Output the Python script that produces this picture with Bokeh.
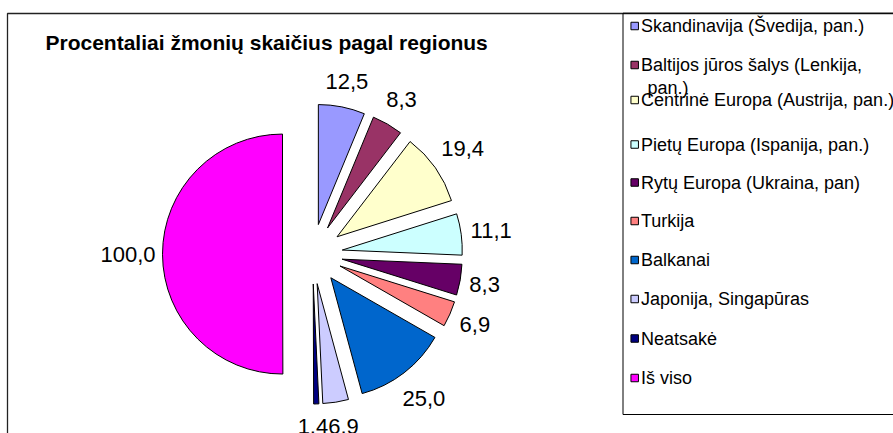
import math
from bokeh.plotting import figure
from bokeh.models import Range1d
from bokeh.core.properties import value
from bokeh.embed import file_html
from bokeh.resources import INLINE

# ---------------- data ----------------
title_text = "Procentaliai žmonių skaičius pagal regionus"
categories = [
    "Skandinavija (Švedija, pan.)",
    "Baltijos jūros šalys (Lenkija,\npan.)",
    "Centrinė Europa (Austrija, pan.)",
    "Pietų Europa (Ispanija, pan.)",
    "Rytų Europa (Ukraina, pan)",
    "Turkija",
    "Balkanai",
    "Japonija, Singapūras",
    "Neatsakė",
    "Iš viso",
]
values = [12.5, 8.3, 19.4, 11.1, 8.3, 6.9, 25.0, 6.9, 1.4, 100.0]
colors = ["#9999FF", "#993366", "#FFFFCC", "#CCFFFF", "#660066",
          "#FF8080", "#0066CC", "#CCCCFF", "#000080", "#FF00FF"]

# ---------------- layout (page pixels) ----------------
W, H = 893, 433
def Y(ys):  # page y (down) -> data y (up)
    return H - ys

CX, CY = 312.0, Y(253.5)
R = 120.0
EXPLODE = 30.0
LABEL_FS = 22.0
LEGEND_FS = 18.0
FONT = "Liberation Sans"

legend_row_y = [25.5, 64.5, 99.5, 144, 182, 220.5, 259.5, 298.5, 338, 377.5]

p = figure(width=W, height=H, output_backend="svg", toolbar_location=None,
           x_range=Range1d(0, W), y_range=Range1d(0, H), min_border=0)
p.xaxis.visible = False
p.yaxis.visible = False
p.grid.visible = False
p.outline_line_color = None
p.background_fill_color = "white"
p.border_fill_color = "white"

# outer chart border (top and left visible)
p.quad(left=[7], right=[W + 20], top=[Y(13)], bottom=[Y(H + 20)],
       fill_color=None, line_color="#222222", line_width=1.3)

# title
p.text(x=[45], y=[Y(42)], text=[title_text], text_font=value(FONT),
       text_font_size="21px", text_font_style="bold", text_color="black",
       text_align="left", text_baseline="middle")

# pie
total = sum(values)
cum = 0.0
xs, ys, sa, ea = [], [], [], []
lx, ly, lw, labels = [], [], [], []
for v in values:
    th_s = cum / total * 360.0
    th_e = (cum + v) / total * 360.0
    th_m = math.radians((th_s + th_e) / 2.0)
    dx, dy = math.sin(th_m), math.cos(th_m)
    ex, ey = CX + EXPLODE * dx, CY + EXPLODE * dy
    xs.append(ex); ys.append(ey)
    sa.append(math.radians(90.0 - th_s)); ea.append(math.radians(90.0 - th_e))
    lab = f"{v:.1f}".replace(".", ",")
    w = sum(0.278 if ch == "," else 0.556 for ch in lab) * LABEL_FS
    r = R + 7 + abs(dx) * w / 2 + abs(dy) * 15.5
    lx.append(ex + r * dx)
    ly.append(ey + r * dy)
    lw.append(w)
    labels.append(lab)
    cum += v

# resolve overlapping labels (push apart horizontally)
lh = 0.75 * LABEL_FS
for i in range(len(labels)):
    for j in range(i + 1, len(labels)):
        ox = (lw[i] + lw[j]) / 2 - abs(lx[i] - lx[j])
        oy = lh - abs(ly[i] - ly[j])
        if ox > 0 and oy > 0:
            s = 1 if lx[i] >= lx[j] else -1
            lx[i] += s * ox / 2
            lx[j] -= s * ox / 2

p.wedge(x=xs, y=ys, radius=R, start_angle=sa, end_angle=ea, direction="clock",
        fill_color=colors, line_color="black", line_width=1)
p.text(x=lx, y=ly, text=labels, text_font=value(FONT), text_font_size=f"{LABEL_FS}px",
       text_color="black", text_align="center", text_baseline="middle")

# legend box
p.quad(left=[622.5], right=[W + 20], top=[Y(12.7)], bottom=[Y(414)],
       fill_color=None, line_color="black", line_width=1)
LINE_H = 22.5
WRAP_INDENT = 6.5
SQ = 7.5
sq_x = [634.2] * len(categories)
sq_y = [Y(v) for v in legend_row_y]
p.rect(x=sq_x, y=sq_y, width=SQ, height=SQ, fill_color=colors, line_color="black", line_width=1)
tx, ty, tt = [], [], []
for cat, ry in zip(categories, legend_row_y):
    for k, line in enumerate(cat.split("\n")):
        tx.append(640.5 + (WRAP_INDENT if k else 0))
        ty.append(Y(ry + k * LINE_H))
        tt.append(line)
p.text(x=tx, y=ty, text=tt, text_font=value(FONT), text_font_size=f"{LEGEND_FS}px",
       text_color="black", text_align="left", text_baseline="middle")

open("out.html", "w").write(file_html(p, INLINE))
